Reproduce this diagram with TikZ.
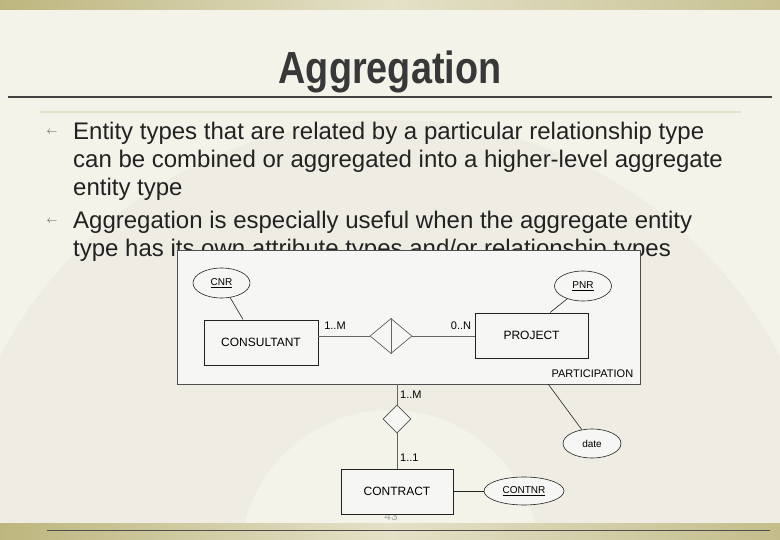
\documentclass[tikz,border=0pt]{standalone}
\usepackage{fontspec}
\setmainfont{Liberation Sans}
\newfontfamily\titlefont[FakeStretch=0.84]{Liberation Sans}
\usepackage{xcolor}
\definecolor{slidebg}{HTML}{F4F3EA}
\definecolor{fanbg}{HTML}{EFEDE3}
\definecolor{olive}{HTML}{BDB67E}
\definecolor{oliveL}{HTML}{E4E1C8}
\definecolor{panelbg}{HTML}{F6F6F4}
\definecolor{ink}{HTML}{222222}
\usepackage{tikz}
\usetikzlibrary{positioning,shapes.geometric,calc}

\begin{document}
\begin{tikzpicture}[x=1pt,y=-1pt,
  line/.style={anchor=base west,inner sep=0,font=\fontsize{24}{28}\selectfont,text=ink},
  bul/.style={inner sep=0,font=\fontsize{11}{12}\selectfont,text=ink!80},
  entity/.style={rectangle,draw=ink,line width=0.9pt,fill=panelbg,inner sep=0,font=\fontsize{12}{14}\selectfont},
  attr/.style={ellipse,draw=ink,line width=0.6pt,fill=panelbg,inner sep=0,minimum width=57,minimum height=30,font=\fontsize{10}{11}\selectfont},
  rel/.style={diamond,draw=ink!80,line width=0.6pt,fill=panelbg,inner sep=0},
  card/.style={inner sep=0,font=\fontsize{11}{13}\selectfont},
  link/.style={draw=ink!70,line width=0.6pt},
]
\useasboundingbox (0,0) rectangle (780,540);
\fill[slidebg] (0,0) rectangle (780,540);
\begin{scope}
\clip (0,0) rectangle (780,540);
\fill[fanbg,even odd rule] (390,560) circle[radius=440] (390,560) circle[radius=150];
\end{scope}
\shade[left color=olive,right color=olive!85,middle color=oliveL] (0,0) rectangle (780,10);
\shade[left color=olive,right color=olive!90,middle color=oliveL] (0,523) rectangle (780,540);
\draw[ink!80,line width=0.8pt] (47,530) -- (770,530);

\node[anchor=base,inner sep=0,text=ink!90,font=\titlefont\bfseries\fontsize{45}{50}\selectfont] (title) at (390,84) {Aggregation};
\draw[ink!85,line width=1.8pt] (8,97) -- (772,97);
\draw[oliveL,line width=1.5pt] (40,112) -- (741,112);

\node[bul] (b1) at (52,132) {$\leftarrow$};
\node[line] (l1) at (73,140) {Entity types that are related by a particular relationship type};
\node[line] (l2) at (73,168) {can be combined or aggregated into a higher-level aggregate};
\node[line] (l3) at (73,196) {entity type};
\node[bul] (b2) at (52,221) {$\leftarrow$};
\node[line] (l4) at (73,229) {Aggregation is especially useful when the aggregate entity};
\node[line] (l5) at (73,257) {type has its own attribute types and/or relationship types};

\node[draw=ink!80,line width=0.8pt,fill=panelbg,inner sep=0,minimum width=463,minimum height=134] (participation) at (408.5,317) {};
\node[card,anchor=base east] (plabel) at ($(participation.south east)+(-7,-7)$) {PARTICIPATION};
\node[entity,minimum width=114,minimum height=45] (consultant) at (261,342.5) {CONSULTANT};
\node[entity,minimum width=113,minimum height=45] (project) at (531.5,335.5) {PROJECT};
\node[attr] (cnr) at (221.5,283) {\underline{CNR}};
\node[attr] (pnr) at (583,286) {\underline{PNR}};
\node[rel,minimum width=42,minimum height=35] (part) at (391,336) {};
\draw[link] (part.north) -- (part.south);
\draw[link,ink] (cnr) -- (consultant.128);
\draw[link,ink] (pnr) -- (project.51);
\draw[link] (consultant.east |- part.west) -- (part.west);
\draw[link] (part.east) -- (project.west |- part.east);
\node[card] (cm1) at (335,326) {1..M};
\node[card] (cn1) at (461,326) {0..N};

\node[text=ink!40,inner sep=0,anchor=base,font=\fontsize{12}{14}\selectfont] (pageno) at (391,520) {43};
\node[rel,minimum width=28,minimum height=28] (holds) at (397,419) {};
\node[entity,minimum width=112,minimum height=45] (contract) at (397,491.5) {CONTRACT};
\node[attr,minimum width=80,minimum height=28] (contnr) at (524,491) {\underline{CONTNR}};
\node[attr,minimum width=58,minimum height=29] (date) at (592,443.5) {date};
\coordinate (pdate) at ($(participation.south east)+(-92,0)$);
\draw[link] (participation.south -| holds) -- (holds.north);
\draw[link] (holds.south) -- (contract.north);
\draw[link,ink] (contract.east |- contnr) -- (contnr);
\draw[link,ink] (pdate) -- (date);
\node[card,anchor=west] (cm2) at (400,395) {1..M};
\node[card,anchor=west] (c11) at (400,458) {1..1};
\end{tikzpicture}
\end{document}
